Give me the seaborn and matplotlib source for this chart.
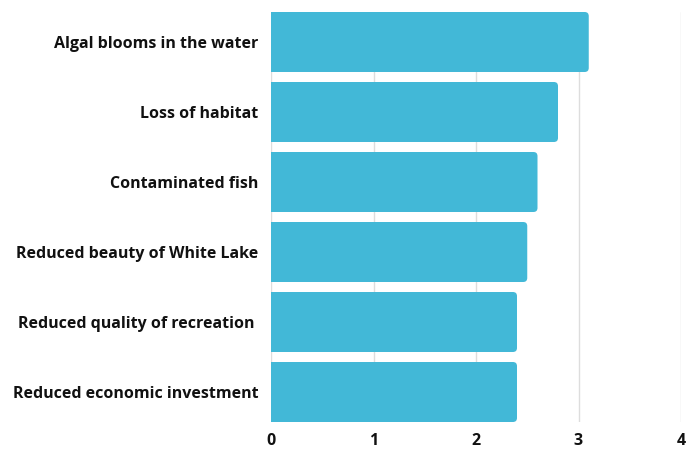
import matplotlib
matplotlib.use("Agg")
import matplotlib.pyplot as plt
from matplotlib.patches import FancyBboxPatch
import seaborn as sns
import pandas as pd

categories = [
    "Algal blooms in the water",
    "Loss of habitat",
    "Contaminated fish",
    "Reduced beauty of White Lake",
    "Reduced quality of recreation ",
    "Reduced economic investment",
]
values = [3.1, 2.8, 2.6, 2.5, 2.4, 2.4]
x_ticks = [0, 1, 2, 3, 4]

df = pd.DataFrame({"category": categories, "value": values})

sns.set_style("white")
plt.rcParams["font.family"] = ["Open Sans", "DejaVu Sans"]

fig = plt.figure(figsize=(6.95, 4.49), dpi=100)
ax = fig.add_axes([271 / 695, 1 - 422 / 449, 410 / 695, 410 / 449])

color = "#42B8D7"
width = 0.857
sns.barplot(data=df, x="value", y="category", orient="h", color=color,
            width=width, saturation=1, ax=ax, zorder=3)

# Replace bars with right-rounded versions
for p in list(ax.patches):
    x0, y0 = p.get_x(), p.get_y()
    w, h = p.get_width(), p.get_height()
    p.set_visible(False)
    rb = FancyBboxPatch((x0 - 0.1, y0), w + 0.1, h,
                        boxstyle="round,pad=0,rounding_size=0.04",
                        mutation_aspect=1.46, facecolor=color,
                        edgecolor="none", zorder=3, clip_on=True)
    ax.add_patch(rb)

ax.set_xlim(0, 4)
ax.set_ylim(len(categories) - 1 + width / 2, -width / 2)
ax.set_xticks(x_ticks)
ax.set_xticklabels([str(t) for t in x_ticks])
ax.xaxis.grid(True, color="#dddddd", linewidth=1, zorder=0)
ax.yaxis.grid(False)
for s in ax.spines.values():
    s.set_visible(False)
ax.set_xlabel("")
ax.set_ylabel("")
ax.tick_params(axis="both", length=0)
ax.tick_params(axis="y", pad=9)
ax.tick_params(axis="x", pad=8)
for lbl in ax.get_yticklabels() + ax.get_xticklabels():
    lbl.set_fontweight("bold")
    lbl.set_fontsize(11.5)
    lbl.set_color("#111111")

fig.savefig("out.png", dpi=100)
